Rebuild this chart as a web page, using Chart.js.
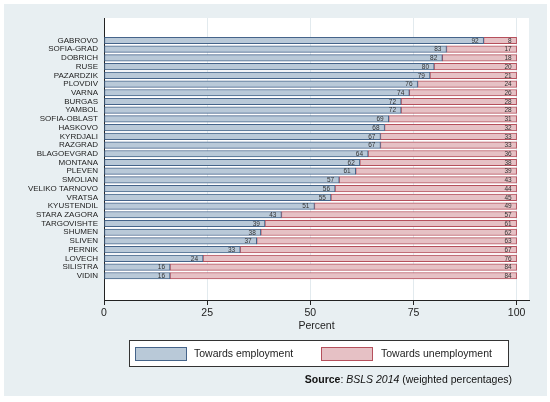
<!DOCTYPE html>
<html lang="en">
<head>
    <meta charset="UTF-8">
    <title>Towards employment / unemployment by district</title>
    <script src="https://cdn.jsdelivr.net/npm/chart.js"></script>
    <style type="text/css">
    body {
    margin: 0;
    padding: 0;
    background-color: white;
    overflow: hidden;
    }
    #chart {
    display: block;
    }
    </style>
</head>
<body>
    <canvas id="chart" width="550" height="402"></canvas>

    <script>
    // districts, top to bottom
    const regions = ['GABROVO', 'SOFIA-GRAD', 'DOBRICH', 'RUSE', 'PAZARDZIK', 'PLOVDIV', 'VARNA', 'BURGAS',
        'YAMBOL', 'SOFIA-OBLAST', 'HASKOVO', 'KYRDJALI', 'RAZGRAD', 'BLAGOEVGRAD', 'MONTANA', 'PLEVEN',
        'SMOLIAN', 'VELIKO TARNOVO', 'VRATSA', 'KYUSTENDIL', 'STARA ZAGORA', 'TARGOVISHTE', 'SHUMEN',
        'SLIVEN', 'PERNIK', 'LOVECH', 'SILISTRA', 'VIDIN'];
    const employment = [92, 83, 82, 80, 79, 76, 74, 72, 72, 69, 68, 67, 67, 64, 62, 61, 57, 56, 55, 51, 43, 39, 38, 37, 33, 24, 16, 16];
    const unemployment = [8, 17, 18, 20, 21, 24, 26, 28, 28, 31, 32, 33, 33, 36, 38, 39, 43, 44, 45, 49, 57, 61, 62, 63, 67, 76, 84, 84];
    const xTicks = [0, 25, 50, 75, 100];
    const seriesNames = ['Towards employment', 'Towards unemployment'];

    const FONT = '"Liberation Sans", Arial, Helvetica, sans-serif';
    const OUTER_BG = '#e8eff2';
    const BLUE_FILL = '#b9c9d8', BLUE_LINE = '#45648a';
    const RED_FILL = '#e6c1c5', RED_LINE = '#b5505c';

    // background panels: light outer frame, white plot region
    const backgroundPlugin = {
    id: 'backgrounds',
    beforeDraw(chart) {
    const c = chart.ctx, a = chart.chartArea;
    c.save();
    c.fillStyle = 'white';
    c.fillRect(0, 0, chart.width, chart.height);
    c.fillStyle = OUTER_BG;
    c.fillRect(4, 4, 543, 392);
    c.fillStyle = 'white';
    c.fillRect(a.left, a.top, a.right - a.left, a.bottom - a.top);
    c.restore();
    }
    };

    // numbers written at the right end of each segment
    const valueLabelPlugin = {
    id: 'valueLabels',
    afterDatasetsDraw(chart) {
    const c = chart.ctx;
    c.save();
    c.font = '6.5px ' + FONT;
    c.fillStyle = '#333';
    c.textAlign = 'right';
    c.textBaseline = 'middle';
    chart.data.datasets.forEach((ds, di) => {
    const vals = di === 0 ? employment : unemployment;
    chart.getDatasetMeta(di).data.forEach((bar, i) => {
    c.fillText(String(vals[i]), bar.x - 5, bar.y + 0.5);
    });
    });
    c.restore();
    }
    };

    // boxed legend and source note underneath the axis
    const legendPlugin = {
    id: 'boxLegend',
    afterDraw(chart) {
    const c = chart.ctx;
    c.save();
    c.fillStyle = 'white';
    c.fillRect(129, 340, 379, 26);
    c.strokeStyle = '#333';
    c.lineWidth = 1;
    c.strokeRect(129.5, 340.5, 379, 26);

    const items = [
    {x: 135, fill: BLUE_FILL, line: BLUE_LINE, text: seriesNames[0], tx: 194},
    {x: 321, fill: RED_FILL, line: RED_LINE, text: seriesNames[1], tx: 381}
    ];
    c.font = '10.5px ' + FONT;
    c.textBaseline = 'middle';
    items.forEach(it => {
    c.fillStyle = it.fill;
    c.fillRect(it.x, 347, 51, 13);
    c.strokeStyle = it.line;
    c.strokeRect(it.x + 0.5, 347.5, 51, 13);
    c.fillStyle = '#222';
    c.textAlign = 'left';
    c.fillText(it.text, it.tx, 354);
    });

    // Source: BSLS 2014 (weighted percentages) -- right aligned
    const parts = [
    {t: 'Source', f: 'bold 10.5px ' + FONT},
    {t: ': ', f: '10.5px ' + FONT},
    {t: 'BSLS 2014', f: 'italic 10.5px ' + FONT},
    {t: ' (weighted percentages)', f: '10.5px ' + FONT}
    ];
    let total = 0;
    parts.forEach(p => { c.font = p.f; total += c.measureText(p.t).width; });
    let x = 512 - total;
    c.textAlign = 'left';
    c.fillStyle = '#111';
    parts.forEach(p => {
    c.font = p.f;
    c.fillText(p.t, x, 380);
    x += c.measureText(p.t).width;
    });
    c.restore();
    }
    };

    const ctx = document.getElementById('chart').getContext('2d');
    const chart = new Chart(ctx, {
    type: 'bar',
    data: {
    datasets: [{
    label: seriesNames[0],
    data: employment.map((v, i) => ({x: v, y: i})),
    backgroundColor: BLUE_FILL,
    borderColor: BLUE_LINE,
    borderWidth: 1,
    borderSkipped: false,
    barThickness: 6.5
    }, {
    label: seriesNames[1],
    data: unemployment.map((v, i) => ({x: v, y: i})),
    backgroundColor: RED_FILL,
    borderColor: RED_LINE,
    borderWidth: 1,
    borderSkipped: false,
    barThickness: 6.5
    }]
    },
    options: {
    indexAxis: 'y',
    responsive: false,
    animation: false,
    layout: {padding: {top: 18, right: 21, bottom: 0, left: 0}},
    plugins: {
    legend: {display: false},
    tooltip: {enabled: false}
    },
    scales: {
    x: {
    type: 'linear',
    stacked: true,
    min: 0,
    max: 103,
    afterBuildTicks: s => { s.ticks = xTicks.map(v => ({value: v})); },
    afterFit: s => { s.height = 102; },
    grid: {
    color: c => (c.tick && c.tick.value === 0) ? 'rgba(0,0,0,0)' : '#e2eaee',
    tickColor: '#222',
    tickLength: 5,
    lineWidth: 1
    },
    border: {color: '#222', width: 1},
    ticks: {
    color: '#222',
    padding: 2,
    maxRotation: 0,
    font: {family: FONT, size: 10.5}
    },
    title: {
    display: true,
    text: 'Percent',
    color: '#222',
    font: {family: FONT, size: 10.5},
    padding: {top: 0, bottom: 70}
    }
    },
    y: {
    type: 'linear',
    stacked: true,
    reverse: true,
    min: -2,
    max: 29.2,
    afterBuildTicks: s => { s.ticks = regions.map((r, i) => ({value: i})); },
    afterFit: s => { s.width = 104; },
    grid: {drawOnChartArea: false, drawTicks: false, color: 'rgba(0,0,0,0)'},
    border: {color: '#222', width: 1},
    ticks: {
    autoSkip: false,
    color: '#222',
    padding: 6,
    font: {family: FONT, size: 8, lineHeight: 1},
    callback: v => regions[v]
    }
    }
    }
    },
    plugins: [backgroundPlugin, valueLabelPlugin, legendPlugin]
    });
    </script>
</body>
</html>
